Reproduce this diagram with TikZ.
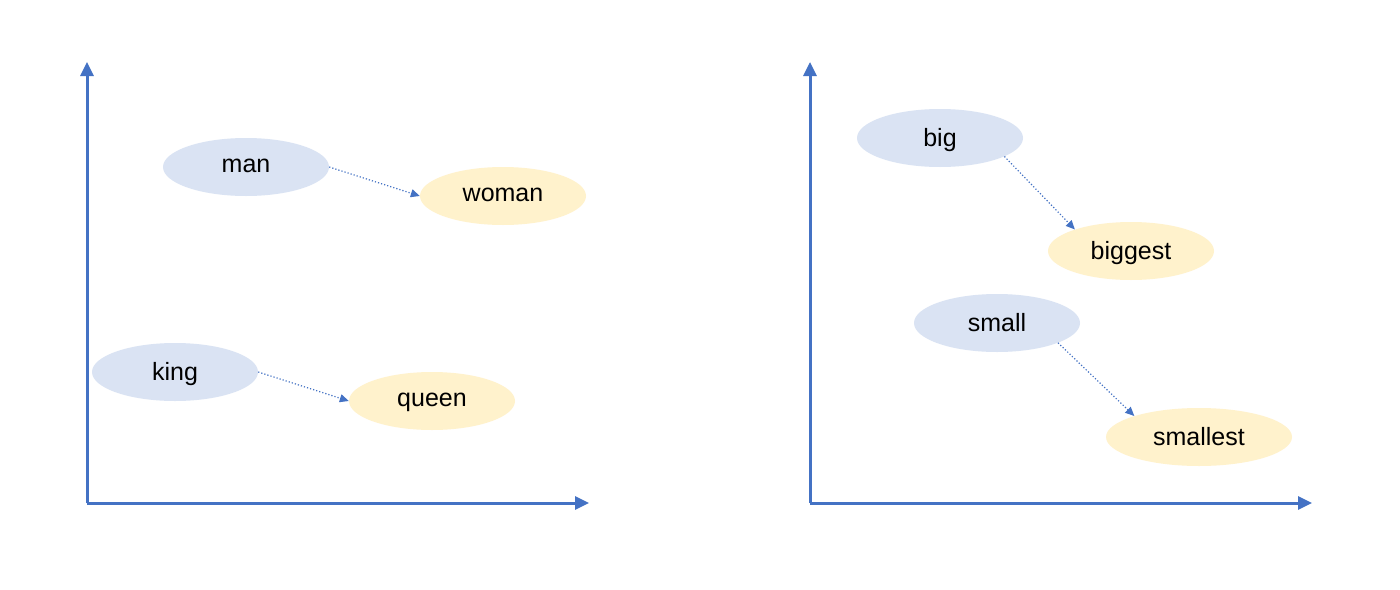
\documentclass[tikz,border=0pt]{standalone}
\usepackage{fontspec}
\setmainfont{Liberation Sans}
\usetikzlibrary{arrows.meta,shapes.geometric}
\definecolor{axisblue}{HTML}{4472C4}
\definecolor{ebl}{HTML}{DAE3F3}
\definecolor{eyl}{HTML}{FFF2CC}
\tikzset{
  axisline/.style={draw=axisblue,line width=3pt,-{Triangle[length=14pt,width=13pt]}},
  wordnode/.style={ellipse,minimum width=166pt,minimum height=58pt,font=\fontsize{25}{30}\selectfont,inner sep=0pt,text depth=2pt},
  bw/.style={wordnode,fill=ebl},
  yw/.style={wordnode,fill=eyl},
  rel/.style={draw=axisblue,line width=1.2pt,dotted,-{Triangle[length=9pt,width=8pt]}}
}
\begin{document}
\begin{tikzpicture}[x=1pt,y=-1pt]
\useasboundingbox[fill=white] (0,0) rectangle (1400,589);
\coordinate (o1) at (87,503); \coordinate (t1) at (87,62); \coordinate (r1) at (589,503);
\coordinate (o2) at (810,503); \coordinate (t2) at (810,62); \coordinate (r2) at (1312,503);
\draw[axisline] (o1) -- (t1);
\draw[axisline] (o1) -- (r1);
\draw[axisline] (o2) -- (t2);
\draw[axisline] (o2) -- (r2);
\node[bw] (man) at (246,167) {man};
\node[yw] (woman) at (503,196) {woman};
\node[bw] (king) at (175,372) {king};
\node[yw] (queen) at (432,401) {queen};
\node[bw] (big) at (940,138) {big};
\node[yw] (biggest) at (1131,251) {biggest};
\node[bw] (small) at (997,323) {small};
\node[yw,minimum width=186pt] (smallest) at (1199,437) {smallest};
\draw[rel] (man.east) -- (woman.west);
\draw[rel] (king.east) -- (queen.west);
\draw[rel] (big.-16) -- (biggest.159);
\draw[rel] (small.-18) -- (smallest.162);
\end{tikzpicture}
\end{document}
